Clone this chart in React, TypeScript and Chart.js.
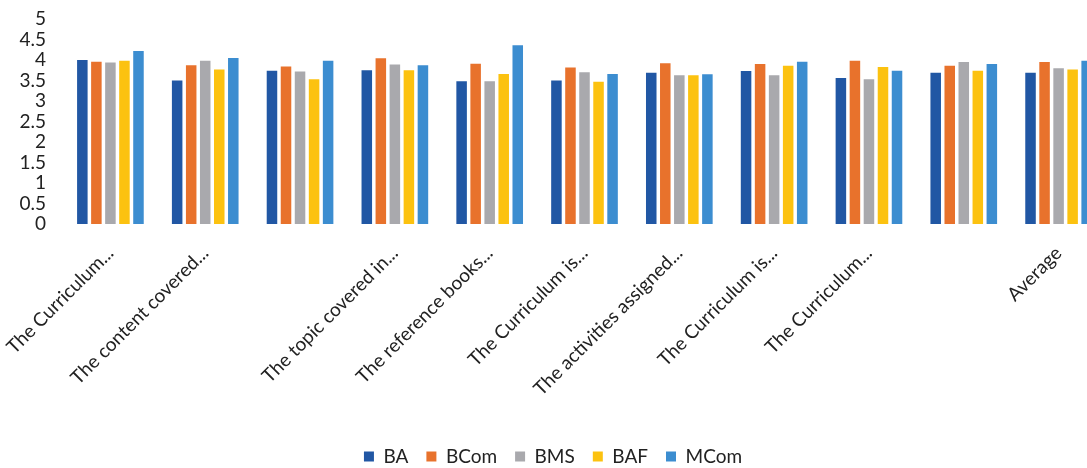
import React, { useEffect, useRef } from "react";
import { Chart, registerables } from "chart.js";

Chart.register(...registerables);

const categories = [
  "The Curriculum...",
  "The content covered...",
  "",
  "The topic covered in...",
  "The reference books...",
  "The Curriculum is...",
  "The activities assigned...",
  "The Curriculum is...",
  "The Curriculum...",
  "",
  "Average",
];

const seriesNames = ["BA", "BCom", "BMS", "BAF", "MCom"];

const baValues = [4.0, 3.5, 3.74, 3.75, 3.48, 3.5, 3.69, 3.73, 3.56, 3.69, 3.69];
const bcomValues = [3.96, 3.87, 3.84, 4.04, 3.91, 3.82, 3.92, 3.9, 3.98, 3.86, 3.95];
const bmsValues = [3.94, 3.98, 3.72, 3.89, 3.48, 3.7, 3.63, 3.63, 3.53, 3.95, 3.8];
const bafValues = [3.98, 3.77, 3.53, 3.75, 3.66, 3.47, 3.63, 3.86, 3.83, 3.74, 3.77];
const mcomValues = [4.22, 4.05, 3.98, 3.87, 4.36, 3.66, 3.65, 3.96, 3.74, 3.9, 3.98];

const yMin = 0;
const yMax = 5;
const yStep = 0.5;

const seriesColors = ["#2157A4", "#E8722C", "#A9A9AD", "#FCC210", "#3C8DD0"];

export default function App() {
  const canvasRef = useRef<HTMLCanvasElement | null>(null);

  useEffect(() => {
    if (!canvasRef.current) return;
    const allValues = [baValues, bcomValues, bmsValues, bafValues, mcomValues];
    const font = "Lato";
    const chart = new Chart(canvasRef.current, {
      type: "bar",
      data: {
        labels: categories,
        datasets: seriesNames.map((name, i) => ({
          label: name,
          data: allValues[i],
          backgroundColor: seriesColors[i],
          borderWidth: 0,
          barPercentage: 0.75,
          categoryPercentage: 0.74,
        })),
      },
      options: {
        responsive: false,
        animation: false,
        devicePixelRatio: 1,
        layout: { padding: { top: 19, right: 0, left: 0, bottom: 0 } },
        plugins: {
          tooltip: { enabled: false },
          legend: {
            position: "bottom",
            labels: {
              boxWidth: 10,
              boxHeight: 10,
              padding: 18,
              color: "#222",
              font: { family: font, size: 19 },
            },
          },
        },
        scales: {
          x: {
            grid: { display: false, drawTicks: false },
            border: { display: false },
            ticks: {
              autoSkip: false,
              maxRotation: 45,
              minRotation: 45,
              padding: 18,
              color: "#222",
              font: { family: font, size: 19 },
            },
            afterFit: (scale: any) => {
              scale.height = 205;
              scale.paddingLeft = 0;
              scale.paddingRight = 0;
            },
          },
          y: {
            min: yMin,
            max: yMax,
            grid: { display: false, drawTicks: false },
            border: { display: false },
            ticks: {
              autoSkip: false,
              stepSize: yStep,
              padding: 17,
              color: "#222",
              font: { family: font, size: 19 },
              callback: (v: any) => String(v),
            },
            afterFit: (scale: any) => {
              scale.width = 63;
              scale.paddingTop = 0;
              scale.paddingBottom = 0;
            },
          },
        },
      },
    });
    return () => chart.destroy();
  }, []);

  return (
    <div
      style={{
        position: "absolute",
        left: 0,
        top: 0,
        width: 1087,
        height: 468,
        overflow: "hidden",
        background: "#fff",
      }}
    >
      <canvas ref={canvasRef} width={1106} height={476} style={{ display: "block" }} />
    </div>
  );
}
